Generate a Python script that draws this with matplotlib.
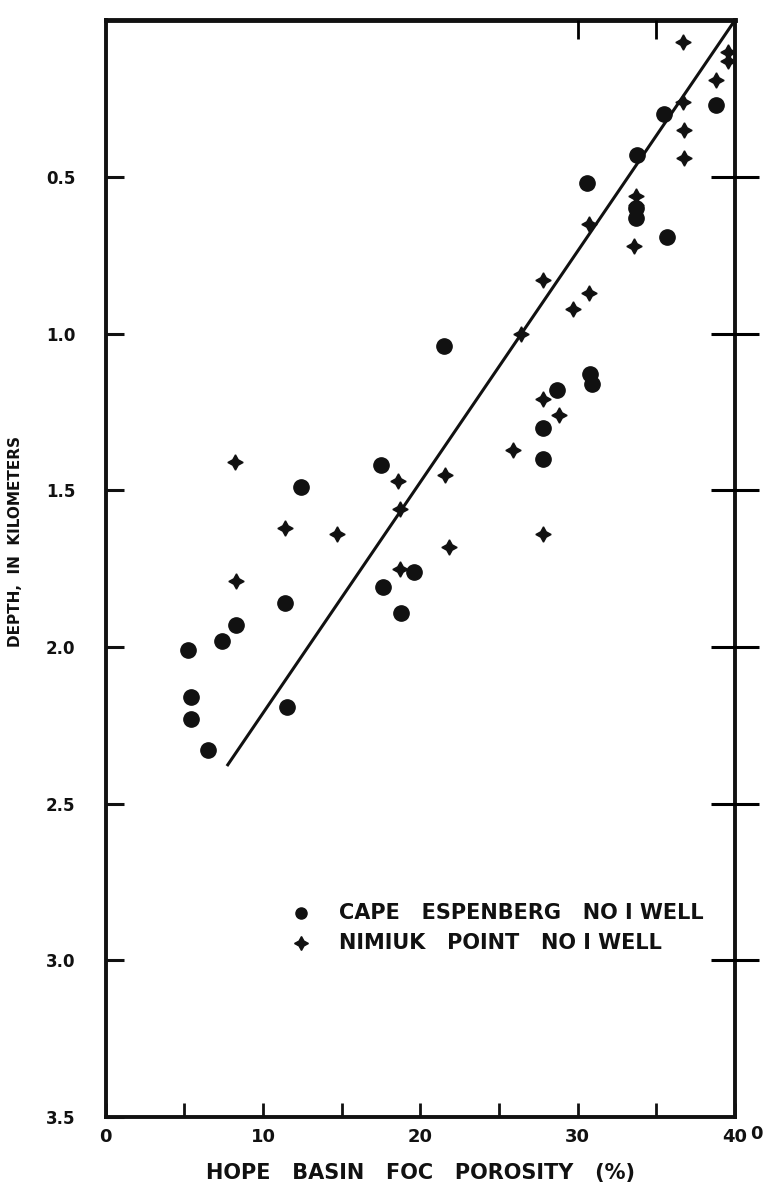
import matplotlib.pyplot as plt

# Cape Espenberg No 1 well (circles): porosity %, depth km
cape_por = [38.8, 35.5, 33.8, 30.6, 33.7, 33.7, 35.7, 21.5, 30.8, 30.9, 28.7,
            27.8, 27.8, 17.5, 12.4, 19.6, 17.6, 18.8, 11.4, 8.3, 7.4, 5.2,
            5.4, 5.4, 6.5, 11.5]
cape_depth = [0.27, 0.30, 0.43, 0.52, 0.60, 0.63, 0.69, 1.04, 1.13, 1.16, 1.18,
              1.30, 1.40, 1.42, 1.49, 1.76, 1.81, 1.89, 1.86, 1.93, 1.98, 2.01,
              2.16, 2.23, 2.33, 2.19]

# Nimiuk Point No 1 well (crosses)
nim_por = [36.7, 39.6, 39.6, 38.8, 36.7, 36.8, 36.8, 33.7, 33.7, 33.6, 30.7,
           27.8, 30.7, 29.7, 26.4, 27.8, 28.8, 25.9, 21.6, 18.6, 18.7, 27.8,
           21.8, 18.7, 8.2, 11.4, 14.7, 8.3]
nim_depth = [0.07, 0.10, 0.13, 0.19, 0.26, 0.35, 0.44, 0.56, 0.59, 0.72, 0.65,
             0.83, 0.87, 0.92, 1.00, 1.21, 1.26, 1.37, 1.45, 1.47, 1.56, 1.64,
             1.68, 1.75, 1.41, 1.62, 1.64, 1.79]

# fitted trend line
fit_por = [7.7, 40.0]
fit_depth = [2.38, 0.0]

xticks = [0, 10, 20, 30, 40]
yticks = [0.5, 1.0, 1.5, 2.0, 2.5, 3.0, 3.5]

fig = plt.figure(figsize=(7.67, 12.01), dpi=100)
ax = fig.add_axes([0.138, 0.070, 0.820, 0.913])

ax.plot(fit_por, fit_depth, color='#111111', lw=2.2, solid_capstyle='butt')
ax.plot(cape_por, cape_depth, 'o', color='#111111', ms=11, ls='none')
ax.plot(nim_por, nim_depth, marker=(4, 1, 0), color='#111111', ms=11, ls='none')

ax.set_xlim(0, 40)
ax.set_ylim(3.5, 0)
ax.set_xticks(xticks)
ax.set_xticklabels(['0', '10', '20', '30', '40'])
ax.set_xticks([5, 15, 25, 35], minor=True)
ax.set_yticks(yticks)
ax.set_yticklabels(['0.5', '1.0', '1.5', '2.0', '2.5', '3.0', '3.5'])

for s in ax.spines.values():
    s.set_linewidth(2.8)
    s.set_color('#111111')
ax.spines['top'].set_linewidth(3.5)

ax.tick_params(axis='x', which='both', direction='in', length=10, width=2,
               labelsize=13, pad=8, colors='#111111')
ax.tick_params(axis='y', direction='in', length=13, width=2.2, labelsize=12,
               pad=22, colors='#111111')
for lab in ax.get_xticklabels() + ax.get_yticklabels():
    lab.set_fontweight('bold')
# hide the tick mark at the 3.5 corner
ax.yaxis.get_major_ticks()[-1].tick1line.set_visible(False)

# right side ticks crossing the spine
rax = ax.twinx()
rax.set_ylim(3.5, 0)
rax.set_yticks(yticks[:-1])
rax.set_yticklabels([])
rax.tick_params(axis='y', direction='inout', length=34, width=2.2)
for s in rax.spines.values():
    s.set_visible(False)

# top ticks
tax = ax.twiny()
tax.set_xlim(0, 40)
tax.set_xticks([30, 35])
tax.set_xticklabels([])
tax.tick_params(axis='x', direction='in', length=14, width=2)
for s in tax.spines.values():
    s.set_visible(False)

ax.set_xlabel('HOPE   BASIN   FOC   POROSITY   (%)', fontsize=15,
              fontweight='bold', labelpad=12, color='#111111')
ax.set_ylabel('DEPTH,  IN  KILOMETERS', fontsize=11, fontweight='bold',
              color='#111111')
ax.yaxis.set_label_coords(-0.132, 0.525)

ax.text(1.035, -0.0075, '0', transform=ax.transAxes, ha='center', va='top',
        fontsize=13, fontweight='bold', color='#111111')

# legend drawn as markers plus text
ax.plot([12.4], [2.85], 'o', color='#111111', ms=8, clip_on=False)
ax.plot([12.4], [2.945], marker=(4, 1, 0), color='#111111', ms=10)
ax.text(14.8, 2.85, 'CAPE   ESPENBERG   NO I WELL', fontsize=15,
        fontweight='bold', va='center', color='#111111')
ax.text(14.8, 2.945, 'NIMIUK   POINT   NO I WELL', fontsize=15,
        fontweight='bold', va='center', color='#111111')

plt.savefig('out.png', dpi=100)
